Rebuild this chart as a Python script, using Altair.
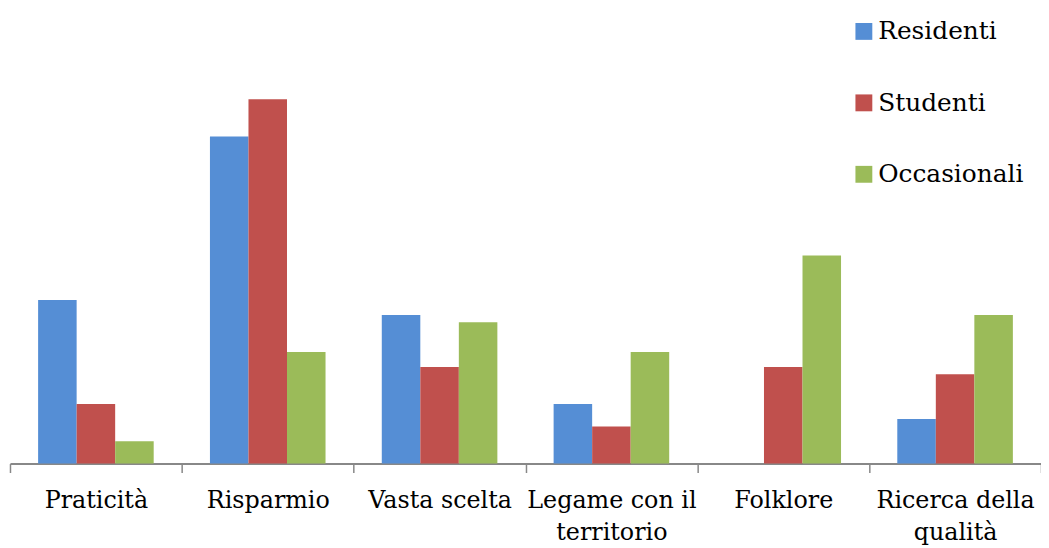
import altair as alt
import pandas as pd

categories = ["Praticità", "Risparmio", "Vasta scelta", "Legame con il territorio", "Folklore", "Ricerca della qualità"]
series = ["Residenti", "Studenti", "Occasionali"]
residenti = [22, 44, 20, 8, 0, 6]
studenti = [8, 49, 13, 5, 13, 12]
occasionali = [3, 15, 19, 15, 28, 20]
colors = ["#558ED5", "#C0504D", "#9BBB59"]

rows = []
for name, vals in zip(series, [residenti, studenti, occasionali]):
    for c, v in zip(categories, vals):
        rows.append({"categoria": c, "gruppo": name, "valore": v})
df = pd.DataFrame(rows)

label_expr = (
    "datum.label == 'Legame con il territorio' ? ['Legame con il', 'territorio'] : "
    "datum.label == 'Ricerca della qualità' ? ['Ricerca della', 'qualità'] : datum.label"
)

FONT = "DejaVu Serif"

chart = alt.Chart(df).mark_bar().encode(
    x=alt.X("categoria:N", sort=categories, title=None,
            scale=alt.Scale(paddingInner=0, paddingOuter=0),
            axis=alt.Axis(labelAngle=0, labelFont=FONT, labelFontSize=24,
                          labelColor="#000000", labelPadding=16, labelLineHeight=33,
                          labelExpr=label_expr, labelLimit=400, tickBand="extent",
                          tickSize=9, tickColor="#888888", tickWidth=1.5,
                          domainColor="#888888", domainWidth=2, labelOverlap=False,
                          labelBaseline="top")),
    xOffset=alt.XOffset("gruppo:N", sort=series,
                        scale=alt.Scale(paddingInner=0, paddingOuter=0.73)),
    y=alt.Y("valore:Q", scale=alt.Scale(domain=[0, 61]), axis=None),
    color=alt.Color("gruppo:N", sort=series,
                    scale=alt.Scale(domain=series, range=colors),
                    legend=alt.Legend(title=None, orient="none", legendX=848, legendY=9,
                                      symbolType="square", symbolSize=289,
                                      symbolStrokeWidth=0, labelFont=FONT,
                                      labelFontSize=25, labelColor="#000000",
                                      labelOffset=2, rowPadding=46, padding=0,
                                      labelLimit=300)),
).properties(
    width=1039, height=457,
    padding={"left": 2, "top": 0, "right": 0, "bottom": 84},
    autosize=alt.AutoSizeParams(type="none"),
).configure_view(stroke=None)

chart.save("out.html", embed_options={"renderer": "svg", "actions": False})
